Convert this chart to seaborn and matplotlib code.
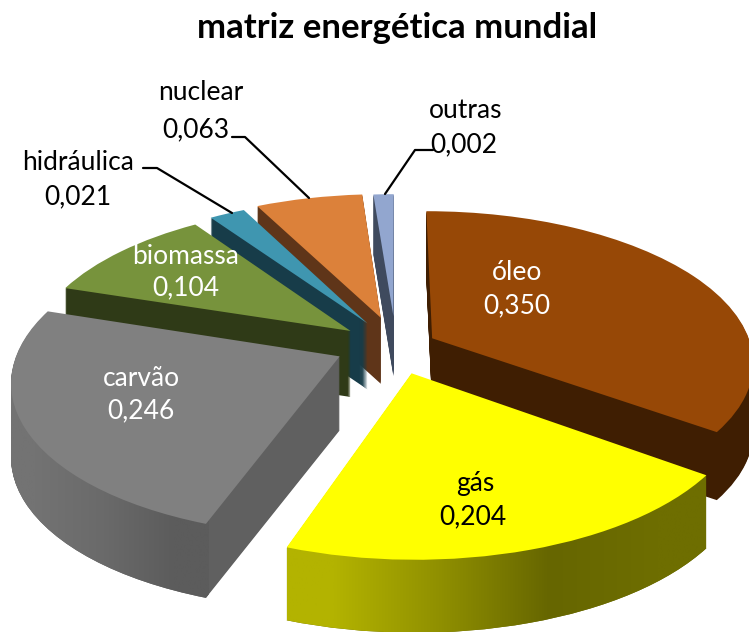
import numpy as np
import seaborn as sns
import matplotlib
matplotlib.use('Agg')
import matplotlib.pyplot as plt
from matplotlib.path import Path
from matplotlib.transforms import Affine2D, Transform

categories = ['óleo', 'gás', 'carvão', 'biomassa', 'hidráulica', 'nuclear', 'outras']
tick_labels = ['0,350', '0,204', '0,246', '0,104', '0,021', '0,063', '0,002']
# slice sizes: outras is printed 0,002 but drawn about 0,012 wide
values = [0.350, 0.204, 0.246, 0.104, 0.021, 0.063, 0.012]
explode = [0.16, 0.20, 0.17, 0.16, 0.14, 0.18, 0.22]

top_colors = ['#974806', '#ffff00', '#808080', '#77933c', '#3f96b0', '#dc813a', '#92a6cf']
side_colors = ['#3f1e02', '#6a6a00', '#606060', '#2f3a17', '#173c49', '#5f3519', '#3f4a5e']
draw_order = [6, 5, 4, 3, 2, 0, 1]
# small pixel corrections per slice and wall height per slice
nudge = [(2, 4), (7, -1), (4, 0), (6, 0), (5, -4), (11, -2), (11, 3)]
wall = [68, 73, 74, 66, 66, 66, 60]


class Persp(Transform):
    # pie lies flat, seen from the front: the back gets smaller
    input_dims = 2
    output_dims = 2

    def transform_non_affine(self, xy):
        xy = np.asarray(xy)
        s = 1 + 0.149 * xy[:, 1]
        return np.column_stack([385 + 320 * xy[:, 0] / s, 345 - 149 * xy[:, 1] / s])


sns.set_theme(style='white')
plt.rcParams['font.family'] = ['Lato', 'DejaVu Sans']

fig = plt.figure(figsize=(7.49, 6.32), dpi=100)
ax = fig.add_axes([0, 0, 1, 1])

side_paths = {i: [] for i in range(len(values))}
for d in list(range(max(wall), 0, -1)) + [0]:
    wedges, _ = ax.pie(values, explode=explode, startangle=90, counterclock=False, radius=1)
    for i, w in enumerate(wedges):
        if d > wall[i]:
            w.remove()
            continue
        base = draw_order.index(i) + 1
        shift = Persp() + Affine2D().translate(nudge[i][0], nudge[i][1] + d)
        w.set_transform(shift + ax.transData)
        w.set_linewidth(0)
        if d == 0:
            w.set_facecolor(top_colors[i])
            w.set_zorder(base + 0.9)
        else:
            w.set_facecolor(side_colors[i])
            w.set_zorder(base + 0.5 * (1 - d / max(wall)))
            side_paths[i].append(shift.transform_path(w.get_path()))


def side_gradient(i, x0, x1, stops):
    img = np.array([[matplotlib.colors.to_rgb(c) for c in stops]])
    im = ax.imshow(img, extent=(x0, x1, 640, 300), aspect='auto', interpolation='bilinear',
                   zorder=draw_order.index(i) + 1.7)
    im.set_clip_path(Path.make_compound_path(*side_paths[i]), ax.transData)


side_gradient(1, 280, 712, ['#b3b300', '#8f8f00', '#666600', '#6e6e00'])
side_gradient(2, 0, 209, ['#737373', '#6a6a6a', '#5c5c5c'])

ax.set_xlim(0, 749)
ax.set_ylim(632, 0)
ax.set_aspect('auto')

ax.text(397, 28, 'matriz energética mundial', ha='center', va='center',
        fontsize=25, fontweight='bold', color='black')

# label position per slice, name line then value line
name_xy = [(517, 273), (475, 483), (141, 378), (186, 257), (78, 163), (201, 93), (466, 110)]
value_xy = [(517, 306), (473, 517), (141, 411), (186, 288), (78, 197), (196, 130), (464, 145)]
label_colors = ['white', 'black', 'white', 'white', 'black', 'black', 'black']
for i, name in enumerate(categories):
    ax.text(*name_xy[i], name, ha='center', va='center', fontsize=19, color=label_colors[i], zorder=20)
    ax.text(*value_xy[i], tick_labels[i], ha='center', va='center', fontsize=19, color=label_colors[i], zorder=20)

ax.plot([143, 157, 232], [168, 168, 213], color='black', lw=1.6, zorder=15)
ax.plot([232, 245, 309], [137, 137, 198], color='black', lw=1.6, zorder=15)
ax.plot([433, 415, 385], [150, 150, 194], color='black', lw=1.6, zorder=15)

fig.savefig('out.png', dpi=100)
